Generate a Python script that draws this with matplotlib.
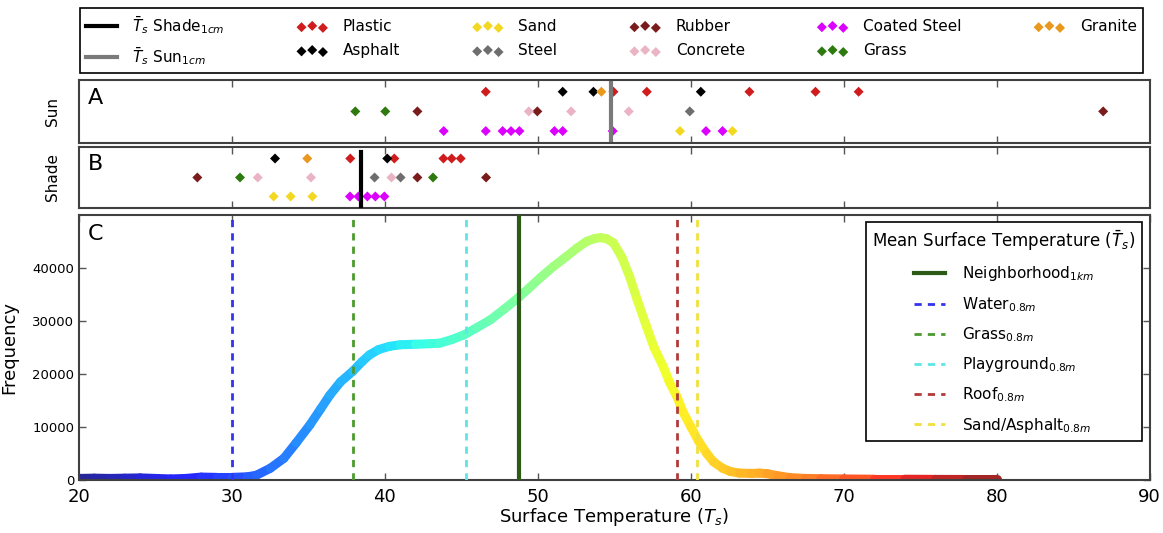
import numpy as np
import matplotlib.pyplot as plt
from matplotlib.collections import LineCollection
from matplotlib.lines import Line2D

# ---- point measurements (surface temperature, deg C) ----
sun_plastic = [46.6, 54.95, 57.13, 63.84, 68.16, 70.98]
sun_asphalt = [51.63, 53.64, 60.66]
sun_sand = [59.3, 62.73]
sun_steel = [59.94]
sun_rubber = [42.13, 49.97, 86.97]
sun_concrete = [49.41, 52.18, 55.95]
sun_coated = [43.85, 46.6, 47.7, 48.25, 48.8, 51.09, 51.63, 54.9, 61.0, 62.08]
sun_grass = [38.07, 40.03]
sun_granite = [54.16]

shade_plastic = [37.74, 40.62, 43.83, 44.37, 44.96]
shade_asphalt = [32.82, 40.16]
shade_sand = [32.73, 33.84, 35.26]
shade_steel = [39.33, 41.03]
shade_rubber = [27.74, 42.13, 46.62]
shade_concrete = [31.69, 35.17, 40.43]
shade_coated = [37.72, 38.27, 38.86, 39.38, 39.97]
shade_grass = [30.53, 43.15]
shade_granite = [34.93]

sun_mean = 54.8
shade_mean = 38.42

# ---- neighborhood temperature distribution ----
curve_t = [20, 21, 22, 23, 24, 25, 26, 27, 28, 29, 30, 31, 31.6, 32.5, 33.4, 34.2,
           35.1, 35.8, 36.4, 37.1, 37.9, 38.5, 39.0, 39.6, 40.3, 41.0, 42.0, 43.0,
           43.6, 44.4, 45.2, 46.0, 46.9, 47.8, 48.7, 49.4, 50.15, 51.0, 51.9, 52.6,
           53.2, 53.7, 54.1, 54.5, 54.95, 55.5, 56.0, 56.5, 57.1, 57.6, 58.2, 58.6,
           59.1, 59.5, 60.0, 60.5, 61.05, 61.5, 62.1, 62.6, 63.2, 64.0, 64.5, 65.0,
           65.7, 66.5, 67.5, 68.5, 70, 72, 74, 76, 78, 80]
curve_freq = [300, 350, 300, 350, 400, 300, 200, 300, 550, 500, 500, 600, 900, 2200,
              4100, 7000, 10400, 13400, 16000, 18500, 20500, 22300, 23600, 24600,
              25200, 25500, 25600, 25700, 25800, 26500, 27400, 28700, 30200, 32200,
              34300, 36100, 38100, 40200, 42200, 43800, 45000, 45500, 45700, 45500,
              44700, 42000, 38400, 34000, 29000, 25000, 21400, 18500, 15700, 12800,
              10100, 7400, 5000, 3400, 2200, 1600, 1300, 1250, 1300, 1200, 800, 450,
              300, 250, 200, 150, 150, 120, 100, 100]

# mean surface temperature of land covers
mean_labels = ['Neighborhood$_{1km}$', 'Water$_{0.8m}$', 'Grass$_{0.8m}$',
               'Playground$_{0.8m}$', 'Roof$_{0.8m}$', 'Sand/Asphalt$_{0.8m}$']
mean_values = [48.78, 30.0, 37.9, 45.29, 59.13, 60.42]
mean_colors = ['#2d5a17', '#3434ee', '#4c9a2e', '#5ee6e6', '#b23a3a', '#f0e03c']

materials = ['Plastic', 'Asphalt', 'Sand', 'Steel', 'Rubber', 'Concrete',
             'Coated Steel', 'Grass', 'Granite']
mat_colors = {'Plastic': '#d01c1c', 'Asphalt': '#000000', 'Sand': '#f2d820',
              'Steel': '#6e6e6e', 'Rubber': '#7a1c1c', 'Concrete': '#eab4c4',
              'Coated Steel': '#dc00ff', 'Grass': '#2f7a10', 'Granite': '#e8981c'}
mat_row = {'Plastic': 3, 'Asphalt': 3, 'Granite': 3, 'Rubber': 2, 'Concrete': 2,
           'Steel': 2, 'Grass': 2, 'Sand': 1, 'Coated Steel': 1}
sun_data = dict(zip(materials, [sun_plastic, sun_asphalt, sun_sand, sun_steel, sun_rubber,
                                sun_concrete, sun_coated, sun_grass, sun_granite]))
shade_data = dict(zip(materials, [shade_plastic, shade_asphalt, shade_sand, shade_steel,
                                  shade_rubber, shade_concrete, shade_coated, shade_grass,
                                  shade_granite]))

fig = plt.figure(figsize=(11.63, 5.33), dpi=100)
axA = fig.add_axes([0.0679, 0.732, 0.9205, 0.118])
axB = fig.add_axes([0.0679, 0.610, 0.9205, 0.114])
axC = fig.add_axes([0.0679, 0.0994, 0.9205, 0.4976])

spine_col = '#404040'
for ax in (axA, axB, axC):
    ax.set_xlim(20, 90)
    for s in ax.spines.values():
        s.set_linewidth(1.5)
        s.set_color(spine_col)
    ax.tick_params(direction='in', top=True, right=True, length=5, width=1,
                   color='#555555')

scat_handles = {}
for ax, data in ((axA, sun_data), (axB, shade_data)):
    for m in materials:
        h = ax.scatter(data[m], [mat_row[m]] * len(data[m]), marker='D', s=26,
                       color=mat_colors[m], edgecolors='none', zorder=3, label=m)
        scat_handles.setdefault(m, h)
    ax.set_ylim(0.4, 3.6)
    ax.set_yticks([])
    ax.set_xticks(range(30, 90, 10))
    ax.tick_params(labelbottom=False)

axA.axvline(sun_mean, ymin=0.05, ymax=0.95, color='#7a7a7a', lw=3, zorder=4)
axB.axvline(shade_mean, ymin=0.03, ymax=0.92, color='black', lw=3, zorder=4)

axA.text(0.008, 0.72, 'A', transform=axA.transAxes, fontsize=16, va='center')
axB.text(0.008, 0.72, 'B', transform=axB.transAxes, fontsize=16, va='center')
axA.set_ylabel('Sun', fontsize=11)
axB.set_ylabel('Shade', fontsize=11)
axA.yaxis.set_label_coords(-0.018, 0.5)
axB.yaxis.set_label_coords(-0.018, 0.5)

# distribution curve as a thick line coloured along temperature
pts = np.column_stack([curve_t, curve_freq])
segs = np.stack([pts[:-1], pts[1:]], axis=1)
mids = (pts[:-1, 0] + pts[1:, 0]) / 2
cols = plt.cm.jet((mids - 20) / 60.0)
cols[:, :3] = cols[:, :3] * 0.85 + 0.15
lc = LineCollection(segs, colors=cols, linewidths=6.5, capstyle='round', zorder=2)
axC.add_collection(lc)

handles_c = []
for lab, val, col in zip(mean_labels, mean_values, mean_colors):
    if lab.startswith('Neighborhood'):
        h = axC.axvline(val, color=col, lw=3, zorder=3, label=lab)
    else:
        h = axC.axvline(val, color=col, lw=2, ls=(0, (2.6, 2.2)), zorder=3, label=lab)
    handles_c.append(h)

axC.set_ylim(0, 50000)
axC.set_yticks(range(0, 50000, 10000))
axC.set_xticks(range(20, 100, 10))
axC.tick_params(axis='x', labelsize=13, pad=6)
axC.tick_params(axis='y', labelsize=9.5)
axC.set_xlabel('Surface Temperature ($T_s$)', fontsize=13, labelpad=0)
axC.set_ylabel('Frequency', fontsize=13)
axC.yaxis.set_label_coords(-0.057, 0.5)
axC.text(0.008, 0.928, 'C', transform=axC.transAxes, fontsize=16, va='center')

leg_c = axC.legend(handles=handles_c, loc='upper right', fontsize=11, fancybox=False,
                   edgecolor='black', framealpha=1, labelspacing=0.75,
                   handletextpad=1.1, borderaxespad=0.5,
                   title='Mean Surface Temperature ($\\bar{T}_s$)', title_fontsize=12)
leg_c.get_frame().set_linewidth(1.2)

# top legend
top_handles = [Line2D([], [], color='black', lw=3),
               Line2D([], [], color='#7a7a7a', lw=3)]
top_labels = ['$\\bar{T}_s$ Shade$_{1cm}$', '$\\bar{T}_s$ Sun$_{1cm}$']
for m in materials:
    top_handles.append(scat_handles[m])
    top_labels.append(m)
leg = fig.legend(top_handles, top_labels, loc='lower left',
                 bbox_to_anchor=(0.0688, 0.863, 0.914, 0.131), mode='expand', ncol=6,
                 borderaxespad=0, scatterpoints=3, fontsize=11, fancybox=False,
                 edgecolor='black', framealpha=1, handletextpad=1.0,
                 labelspacing=0.6)
leg.get_frame().set_linewidth(1.2)

fig.savefig('out.png', dpi=100)
